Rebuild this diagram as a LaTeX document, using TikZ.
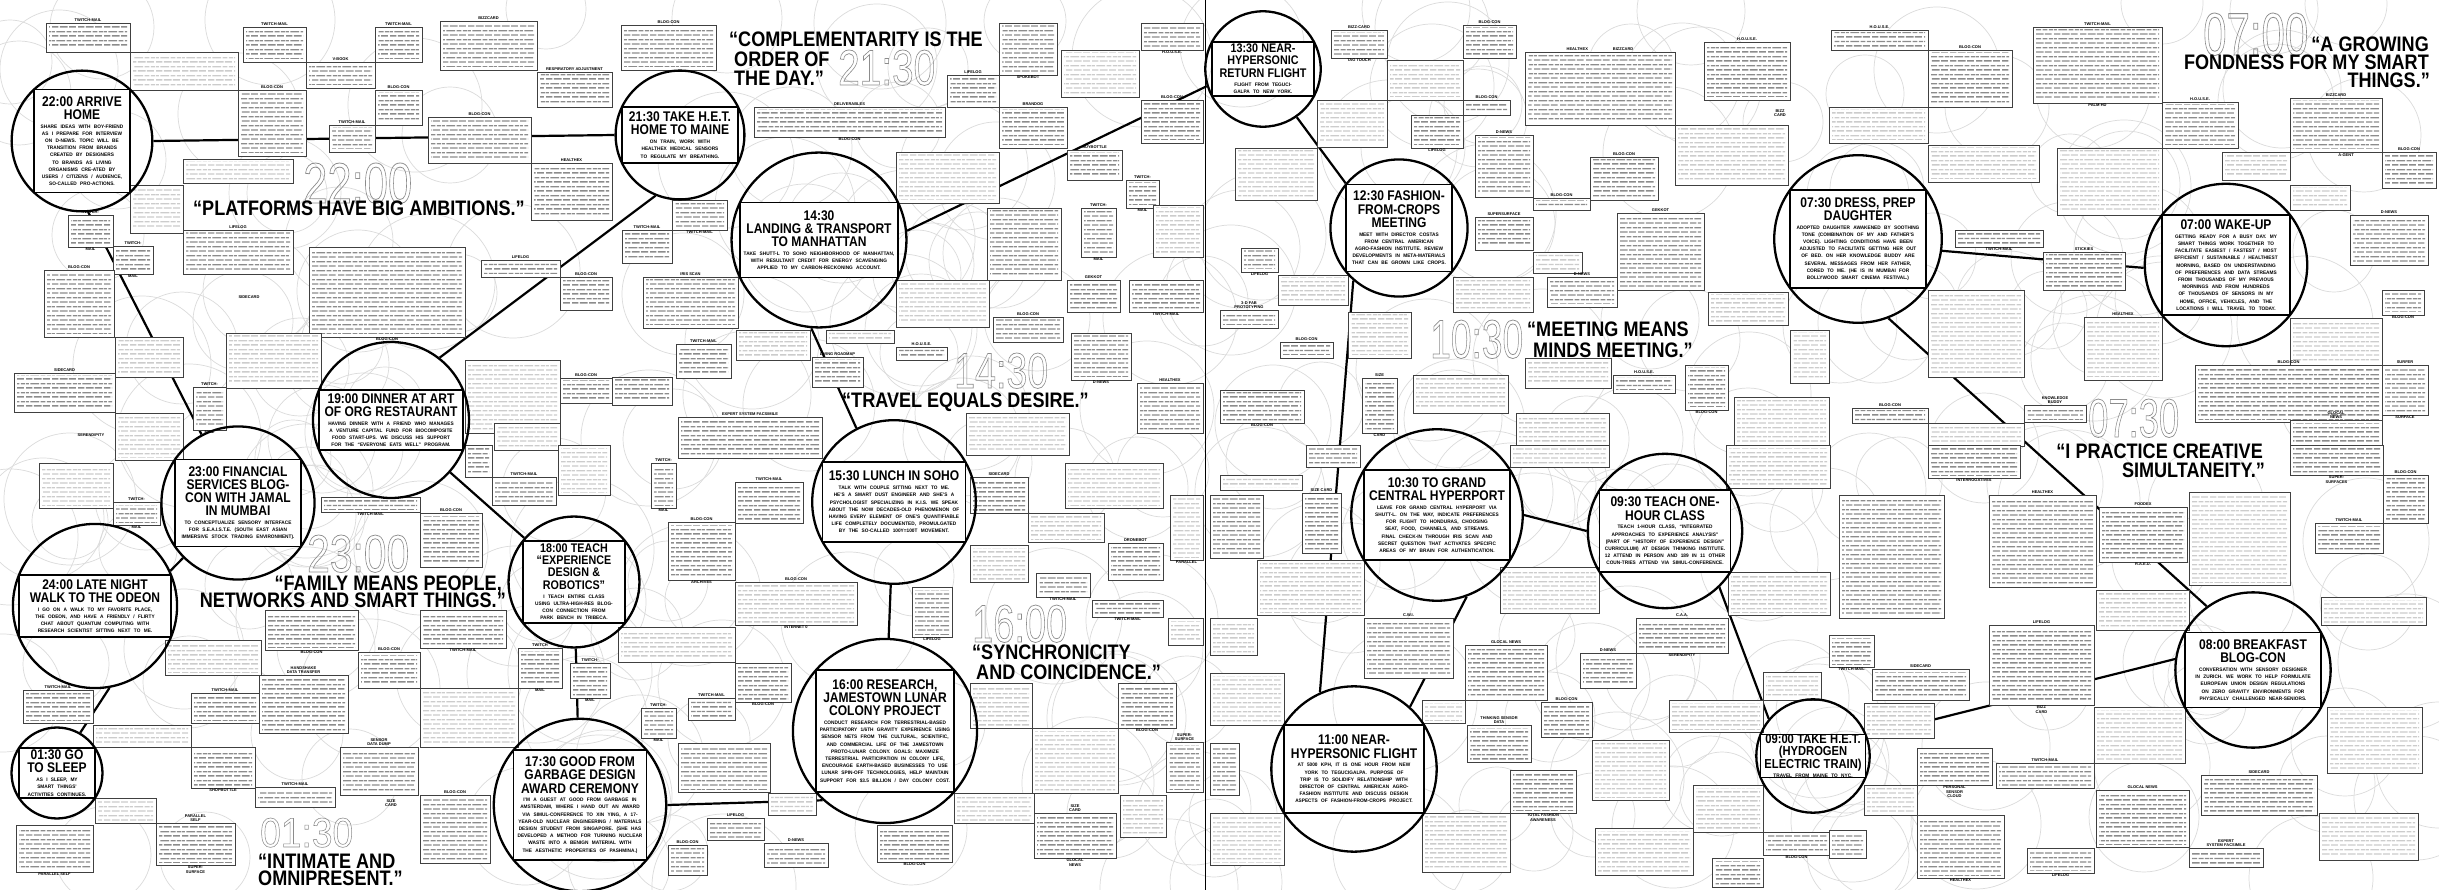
\documentclass[tikz,border=0pt]{standalone}
\usepackage{fontspec}
\setmainfont{Liberation Sans}
\newfontfamily\condf[FakeStretch=0.86]{Liberation Sans}
\newfontfamily\bodyff[FakeStretch=0.95]{Liberation Sans}
\newfontfamily\numff{Liberation Sans}
\usetikzlibrary{patterns}
\pgfdeclarelayer{bg}\pgfdeclarelayer{conn}\pgfdeclarelayer{boxes}
\pgfsetlayers{bg,conn,boxes,main}
\pgfdeclarepatternformonly{txtlines}{\pgfqpoint{0pt}{0pt}}{\pgfqpoint{26pt}{8.6pt}}{\pgfqpoint{26pt}{8.6pt}}{%
 \pgfsetlinewidth{1.4pt}%
 \pgfpathmoveto{\pgfqpoint{0pt}{2.15pt}}\pgfpathlineto{\pgfqpoint{6.5pt}{2.15pt}}%
 \pgfpathmoveto{\pgfqpoint{8pt}{2.15pt}}\pgfpathlineto{\pgfqpoint{16pt}{2.15pt}}%
 \pgfpathmoveto{\pgfqpoint{17.5pt}{2.15pt}}\pgfpathlineto{\pgfqpoint{24.5pt}{2.15pt}}%
 \pgfpathmoveto{\pgfqpoint{0pt}{6.45pt}}\pgfpathlineto{\pgfqpoint{3pt}{6.45pt}}%
 \pgfpathmoveto{\pgfqpoint{4.5pt}{6.45pt}}\pgfpathlineto{\pgfqpoint{13.5pt}{6.45pt}}%
 \pgfpathmoveto{\pgfqpoint{15pt}{6.45pt}}\pgfpathlineto{\pgfqpoint{20pt}{6.45pt}}%
 \pgfpathmoveto{\pgfqpoint{21.5pt}{6.45pt}}\pgfpathlineto{\pgfqpoint{26pt}{6.45pt}}%
 \pgfusepath{stroke}}
\colorlet{toned}{black!45}
\colorlet{tonel}{black!20}
\newcommand\ttlf{\condf\bfseries\fontsize{14}{13.2}\selectfont}
\newcommand\bdyf{\bodyff\bfseries\fontsize{5}{7.2}\selectfont}
\newcommand\outl[1]{\special{pdf:literal direct 1 Tr 0.7 w}#1\special{pdf:literal direct 0 Tr}}
\tikzset{
 sbox/.style={draw=black!75,line width=0.7pt,fill=white},
 lbl/.style={font=\bfseries\fontsize{4}{4.4}\selectfont,inner sep=0.3pt,align=center},
 bigc/.style={circle,draw,line width=2.3pt,inner sep=0pt},
 ibox/.style={draw,line width=1.3pt,fill=white},
 evt/.style={align=center,inner sep=0pt},
 link/.style={line width=2.2pt},
 faint/.style={draw=black!14,line width=0.7pt},
 qt/.style={font=\condf\bfseries\fontsize{21}{19}\selectfont,inner sep=0pt},
 tnum/.style={text=black!45,inner sep=0pt,anchor=base west},
}
\newcounter{bxc}
\newcommand\bx[7][]{%
 \stepcounter{bxc}%
 \draw[sbox] (#2,#3) rectangle (#4,#5);
 \fill[pattern=txtlines,pattern color=tone#7] ({#2+3},{#3+3}) rectangle ({#4-3},{#5-3});
 \node[lbl,anchor=south] (la\thebxc) at ({(#2+#4)/2},{#3-0.6}) {#6};
 \node[lbl,anchor=north] (lb\thebxc) at ({(#2+#4)/2},{#5+0.6}) {#1};
}
\newcommand\evc[7]{%
 \pgfmathsetmacro\dd{2*veclen(#4,#5)}%
 \pgfmathsetmacro\tw{2*#4-7}%
 \node[bigc,minimum size=\dd pt] (#1) at (#2,#3) {};
 \draw[ibox] ({#2-#4},{#3-#5}) rectangle ({#2+#4},{#3+#5});
 \node[evt,text width=\tw pt] (#1x) at (#2,#3) {{\ttlf #6\par}\vspace{1.5pt}{\bdyf #7\par}};
}
\newcommand\tnm[5]{% name x ybottom width height
 \node[tnum] (#1) at (#2,#3) {\resizebox{#4pt}{#5pt}{\numff\fontsize{50}{50}\selectfont\outl{\csname tn#1\endcsname}}};
}
\begin{document}
\begin{tikzpicture}[x=1pt,y=-1pt]
\useasboundingbox (0,0) rectangle (2439,890);

% faint background circles
\begin{pgfonlayer}{bg}
\fill[white] (0,0) rectangle (2439,890);
\pgfmathsetseed{42}
\foreach \i in {1,...,260}{
 \pgfmathsetmacro\px{random(0,2439)}
 \pgfmathsetmacro\py{random(0,890)}
 \pgfmathsetmacro\pr{random(38,72)}
 \draw[faint] (\px,\py) circle[radius=\pr];
}
\end{pgfonlayer}

% ---------- event circles ----------
\evc{s2200}{82}{141}{48}{51.5}{22:00~ARRIVE\\HOME}{SHARE IDEAS WITH BOY-FRIEND AS I PREPARE FOR INTERVIEW ON D-NEWS. TOPIC WILL BE TRANSITION FROM BRANDS CREATED BY DESIGNERS TO BRANDS AS LIVING ORGANISMS CRE-ATED BY USERS / CITIZENS / AUDIENCE, SO-CALLED PRO-ACTIONS.}
\evc{s2130}{680}{135}{58}{28}{21:30~TAKE~H.E.T.\\HOME~TO~MAINE}{ON TRAIN, WORK WITH HEALTHEX MEDICAL SENSORS TO REGULATE MY BREATHING.}
\evc{s1430}{819}{240}{79}{37.5}{14:30\\LANDING~\&~TRANSPORT\\TO~MANHATTAN}{TAKE SHUTT-L TO SOHO NEIGHBORHOOD OF MANHATTAN, WITH RESULTANT CREDIT FOR ENERGY SCAVENGING APPLIED TO MY CARBON-RECKONING ACCOUNT.}
\evc{s1330}{1263}{69}{51}{27}{{\fontsize{12.5}{11.6}\selectfont 13:30~NEAR-\\HYPERSONIC\\RETURN~FLIGHT}}{FLIGHT FROM TEGUCIGALPA TO NEW YORK.}
\evc{s1230}{1399}{228}{53}{43.5}{12:30~FASHION-\\FROM-CROPS\\MEETING}{MEET WITH DIRECTOR COSTAS FROM CENTRAL AMERICAN AGRO-FASHION INSTITUTE. REVIEW DEVELOPMENTS IN META-MATERIALS THAT CAN BE GROWN LIKE CROPS.}
\evc{s0730}{1858}{239}{68}{49}{07:30~DRESS,~PREP\\DAUGHTER}{ADOPTED DAUGHTER AWAKENED BY SOOTHING TONE (COMBINATION OF MY AND FATHER’S VOICE). LIGHTING CONDITIONS HAVE BEEN ADJUSTED TO FACILITATE GETTING HER OUT OF BED. ON HER KNOWLEDGE BUDDY ARE SEVERAL MESSAGES FROM HER FATHER, CORED TO ME. (HE IS IN MUMBAI FOR BOLLYWOOD SMART CINEMA FESTIVAL.)}
\evc{s0700}{2226}{265}{64}{50}{07:00~WAKE-UP}{GETTING READY FOR A BUSY DAY. MY SMART THINGS WORK TOGETHER TO FACILITATE EASIEST / FASTEST / MOST EFFICIENT / SUSTAINABLE / HEALTHIEST MORNING, BASED ON UNDERSTANDING OF PREFERENCES AND DATA STREAMS FROM THOUSANDS OF MY PREVIOUS MORNINGS AND FROM HUNDREDS OF THOUSANDS OF SENSORS IN MY HOME, OFFICE, VEHICLES, AND THE LOCATIONS I WILL TRAVEL TO TODAY.}
\evc{s1900}{391}{420}{72}{30}{19:00~DINNER~AT~ART\\OF~ORG~RESTAURANT}{HAVING DINNER WITH A FRIEND WHO MANAGES A VENTURE CAPITAL FUND FOR BIOCOMPOSITE FOOD START-UPS. WE DISCUSS HIS SUPPORT FOR THE “EVERYONE EATS WELL” PROGRAM.}
\evc{s2300}{238}{503}{63}{43.5}{23:00~FINANCIAL\\SERVICES~BLOG-\\CON~WITH~JAMAL\\IN~MUMBAI}{TO CONCEPTUALIZE SENSORY INTERFACE FOR S.E.A.I.S.T.E. (SOUTH EAST ASIAN IMMERSIVE STOCK TRADING ENVIRONMENT).}
\evc{s2400}{95}{606}{76}{31}{24:00~LATE~NIGHT\\WALK~TO~THE~ODEON}{I GO ON A WALK TO MY FAVORITE PLACE, THE ODEON, AND HAVE A FRIENDLY / FLIRTY CHAT ABOUT QUANTUM COMPUTING WITH RESEARCH SCIENTIST SITTING NEXT TO ME.}
\evc{s0130}{57}{773}{38}{25}{01:30~GO\\TO~SLEEP}{AS I SLEEP, MY SMART THINGS’ ACTIVITIES CONTINUES.}
\evc{s1800}{574}{582}{51}{41}{{\fontsize{12.5}{11.6}\selectfont 18:00~TEACH\\“EXPERIENCE\\DESIGN~\&\\ROBOTICS”}}{I TEACH ENTIRE CLASS USING ULTRA-HIGH-RES BLOG-CON CONNECTION FROM PARK BENCH IN TRIBECA.}
\evc{s1530}{894}{502}{71.5}{40}{15:30~LUNCH~IN~SOHO}{TALK WITH COUPLE SITTING NEXT TO ME. HE’S A SMART DUST ENGINEER AND SHE’S A PSYCHOLOGIST SPECIALIZING IN K.I.S. WE SPEAK ABOUT THE NOW DECADES-OLD PHENOMENON OF HAVING EVERY ELEMENT OF ONE’S QUANTIFIABLE LIFE COMPLETELY DOCUMENTED, PROMULGATED BY THE SO-CALLED 100Y=100T MOVEMENT.}
\evc{s1030}{1437}{515}{73}{45}{10:30~TO~GRAND\\CENTRAL~HYPERPORT}{LEAVE FOR GRAND CENTRAL HYPERPORT VIA SHUTT-L. ON THE WAY, INDICATE PREFERENCES FOR FLIGHT TO HONDURAS, CHOOSING SEAT, FOOD, CHANNELS, AND STREAMS. FINAL CHECK-IN THROUGH IRIS SCAN AND SECRET QUESTION THAT ACTIVATES SPECIFIC AREAS OF MY BRAIN FOR AUTHENTICATION.}
\evc{s0930}{1665}{531}{65.5}{41}{09:30~TEACH~ONE-\\HOUR~CLASS}{TEACH 1-HOUR CLASS, “INTEGRATED APPROACHES TO EXPERIENCE ANALYSIS” (PART OF “HISTORY OF EXPERIENCE DESIGN” CURRICULUM) AT DESIGN THINKING INSTITUTE. 12 ATTEND IN PERSON AND 189 IN 11 OTHER COUN-TRIES ATTEND VIA SIMUL-CONFERENCE.}
\evc{s1600}{885}{731}{69}{61}{16:00~RESEARCH,\\JAMESTOWN~LUNAR\\COLONY~PROJECT}{CONDUCT RESEARCH FOR TERRESTRIAL-BASED PARTICIPATORY 1/6TH GRAVITY EXPERIENCE USING SENSOR NETS FROM THE CULTURAL, SCIENTIFIC, AND COMMERCIAL LIFE OF THE JAMESTOWN PROTO-LUNAR COLONY. GOALS: MAXIMIZE TERRESTRIAL PARTICIPATION IN COLONY LIFE, ENCOURAGE EARTH-BASED BUSINESSES TO USE LUNAR SPIN-OFF TECHNOLOGIES, HELP MAINTAIN SUPPORT FOR \$3.5 BILLION / DAY COLONY COST.}
\evc{s1730}{580}{805}{66.5}{55}{17:30~GOOD~FROM\\GARBAGE~DESIGN\\AWARD~CEREMONY}{I’M A GUEST AT GOOD FROM GARBAGE IN AMSTERDAM, WHERE I HAND OUT AN AWARD VIA SIMUL-CONFERENCE TO XIN YING, A 17-YEAR-OLD NUCLEAR ENGINEERING / MATERIALS DESIGN STUDENT FROM SINGAPORE. (SHE HAS DEVELOPED A METHOD FOR TURNING NUCLEAR WASTE INTO A BENIGN MATERIAL WITH THE AESTHETIC PROPERTIES OF PASHMINA.)}
\evc{s1100}{1354}{769}{70}{44}{11:00~NEAR-\\HYPERSONIC~FLIGHT}{AT 5000 KPH, IT IS ONE HOUR FROM NEW YORK TO TEGUCIGALPA. PURPOSE OF TRIP IS TO SOLIDIFY RELATIONSHIP WITH DIRECTOR OF CENTRAL AMERICAN AGRO-FASHION INSTITUTE AND DISCUSS DESIGN ASPECTS OF FASHION-FROM-CROPS PROJECT.}
\evc{s0900}{1813}{756}{52.5}{21.5}{{\fontsize{13}{12.2}\selectfont 09:00~TAKE~H.E.T.\\(HYDROGEN\\ELECTRIC~TRAIN)}}{TRAVEL FROM MAINE TO NYC.}
\evc{s0800}{2253}{670}{68}{37.5}{08:00~BREAKFAST\\BLOG-CON}{CONVERSATION WITH SENSORY DESIGNER IN ZURICH. WE WORK TO HELP FORMULATE EUROPEAN UNION DESIGN REGULATIONS ON ZERO GRAVITY ENVIRONMENTS FOR PHYSICALLY CHALLENGED NEAR-SENIORS.}

% ---------- connectors ----------
\begin{pgfonlayer}{conn}
\draw[link] (s2200.east) -- (s2130.west);
\draw[link] (s2200.275) -- (s2300.118);
\draw[link] (s2300.225) -- (s2400.25);
\draw[link] (s2400.-80) -- (s0130.60);
\draw[link] (s2130.248) -- (s1900.52);
\draw[link] (s1900) -- (s1800);
\draw[link] (s1800) -- (s1730);
\draw[link] (s1730.0) -- (s1600.228);
\draw[link] (s1600) -- (s1530);
\draw[link] (s1530.117) -- (s1430.265);
\draw[link] (s1430.6) -- (s1330.197);
\draw[link] (s1330.305) -- (s1230.140);
\draw[link] (s1230.229) -- (s1100.114);
\draw[link] (s1100.48) -- (s1030.290);
\draw[link] (s1030.east) -- (s0930.west);
\draw[link] (s0930.314) -- (s0900.140);
\draw[link] (s0900.20) -- (s0800.172);
\draw[link] (s0800.126) -- (s0730.291);
\draw[link] (s0730.-8) -- (s0700.182);
\end{pgfonlayer}

% ---------- small boxes ----------
\begin{pgfonlayer}{boxes}
% tile 1
\bx{46}{23}{130}{52}{TWITCH-MAIL}{d}
\bx{130}{52}{238}{90}{}{l}
\bx{243}{27}{306}{62}{TWITCH-MAIL}{d}
\bx{375}{27}{422}{62}{TWITCH-MAIL}{d}
\bx{306}{62}{375}{88}{V-BOOK}{d}
\bx{238}{90}{306}{156}{BLOG-CON}{d}
\bx{375}{90}{422}{125}{BLOG-CON}{d}
\bx{329}{125}{375}{152}{TWITCH-MAIL}{d}
\bx{440}{21}{537}{70}{BIZZCARD}{d}
\bx{537}{72}{612}{107}{RESPIRATORY ADJUSTMENT}{d}
\bx{428}{117}{531}{163}{BLOG-CON}{d}
\bx{531}{163}{612}{220}{HEALTHEX}{d}
\bx{183}{159}{293}{183}{}{l}
\bx{130}{185}{183}{233}{}{l}
\bx[MAIL]{68}{215}{113}{247}{TWITCH-}{d}
\bx[MAIL]{113}{246}{153}{274}{TWITCH-}{d}
\bx{183}{230}{293}{274}{LIFELOG}{d}
\bx{44}{270}{114}{337}{BLOG-CON}{d}
\bx[BLOG-CON]{309}{247}{465}{337}{}{d}
\bx{481}{260}{560}{277}{LIFELOG}{d}
\bx{560}{277}{612}{310}{BLOG-CON}{d}
\bx{115}{337}{183}{377}{}{l}
\bx{226}{333}{321}{388}{}{l}
\bx{465}{360}{560}{433}{}{l}
\bx{14}{373}{115}{412}{SIDECARD}{d}
\bx[MAIL]{193}{387}{226}{430}{TWITCH-}{d}
\bx{115}{413}{183}{460}{}{l}
\bx{560}{378}{612}{403}{BLOG-CON}{d}
\bx{494}{423}{560}{450}{}{l}
% tile 2
\bx{621}{25}{716}{70}{BLOG-CON}{d}
\bx[BLOG-CON]{754}{107}{945}{137}{DELIVERABLES}{d}
\bx{896}{152}{999}{203}{}{l}
\bx[SPOKEBOT]{999}{23}{1057}{75}{}{d}
\bx{947}{75}{999}{107}{LIFELOG}{d}
\bx{999}{107}{1067}{148}{BRANDOG}{d}
\bx{1061}{50}{1139}{97}{}{l}
\bx[H.O.U.S.E.]{1141}{23}{1203}{50}{}{d}
\bx{1141}{100}{1203}{143}{BLOG-CON}{d}
\bx{1067}{150}{1122}{180}{BUYBOTTLE}{d}
\bx[MAIL]{1126}{180}{1159}{208}{TWITCH-}{d}
\bx[MAIL]{1081}{208}{1116}{257}{TWITCH-}{d}
\bx{1153}{205}{1203}{257}{}{l}
\bx{987}{208}{1061}{280}{}{d}
\bx{1067}{280}{1120}{312}{GEKKOT}{d}
\bx{993}{317}{1063}{342}{BLOG-CON}{d}
\bx{896}{280}{989}{327}{}{l}
\bx[TWITCH-MAIL]{1129}{280}{1203}{312}{}{d}
\bx[D-NEWS]{1071}{333}{1131}{380}{}{d}
\bx{1137}{383}{1203}{433}{HEALTHEX}{d}
\bx{643}{277}{738}{328}{IRIS SCAN}{d}
\bx[TWITCH-MAIL]{672}{200}{727}{230}{}{d}
\bx{622}{230}{672}{263}{TWITCH-MAIL}{d}
\bx{736}{330}{810}{360}{}{l}
\bx{826}{330}{894}{343}{}{l}
\bx{812}{357}{863}{387}{LIVING ROADMAP}{d}
\bx{896}{347}{947}{360}{H.O.U.S.E.}{d}
\bx{676}{344}{731}{378}{TWITCH-MAIL}{d}
\bx{678}{417}{822}{458}{EXPERT SYSTEM FACSIMILE}{d}
\bx{612}{377}{672}{405}{}{d}
\bx{966}{413}{1069}{455}{}{l}
% tile 3
\bx[TAG TOUCH]{1331}{30}{1387}{58}{BIZZ-CARD}{d}
\bx{1387}{60}{1463}{100}{}{l}
\bx{1463}{25}{1516}{58}{BLOG-CON}{d}
\bx{1463}{100}{1510}{115}{BLOG-CON}{d}
\bx{1317}{100}{1387}{147}{}{l}
\bx[LIFELOG]{1411}{115}{1463}{148}{}{d}
\bx{1475}{135}{1533}{197}{D-NEWS}{d}
\bx{1525}{52}{1675}{125}{HEALTHEX\hspace{25pt}BIZZCARD}{d}
\bx{1704}{42}{1790}{100}{H.O.U.S.E.}{d}
\bx{1675}{125}{1788}{185}{}{l}
\bx{1590}{157}{1658}{200}{BLOG-CON}{d}
\bx{1533}{198}{1590}{210}{BLOG-CON}{d}
\bx{1475}{217}{1533}{250}{SUPERSURFACE}{d}
\bx{1533}{252}{1582}{273}{}{l}
\bx{1617}{213}{1704}{290}{GEKKOT}{d}
\bx{1547}{277}{1617}{307}{D-NEWS}{d}
\bx{1453}{277}{1533}{312}{}{l}
\bx{1708}{292}{1788}{325}{}{l}
\bx{1790}{330}{1829}{383}{}{l}
\bx[LIFELOG]{1241}{248}{1278}{272}{}{d}
\bx{1278}{275}{1348}{305}{}{l}
\bx{1220}{310}{1278}{328}{3-D FAB\\PROTOTYPING}{d}
\bx{1280}{342}{1333}{358}{BLOG-CON}{d}
\bx{1348}{312}{1411}{358}{}{l}
\bx{1525}{358}{1611}{388}{}{l}
\bx{1613}{375}{1675}{393}{H.O.U.S.E.}{d}
\bx[BLOG-CON]{1685}{365}{1728}{410}{}{d}
\bx{1413}{375}{1508}{413}{}{l}
\bx[CARD]{1362}{378}{1397}{433}{SIZE}{d}
\bx[BLOG-CON]{1220}{390}{1304}{423}{}{d}
\bx{1734}{397}{1829}{446}{}{l}
\bx{1516}{413}{1609}{446}{}{l}
\bx{1235}{148}{1317}{200}{}{l}
% tile 4
\bx{1831}{30}{1928}{50}{H.O.U.S.E.}{d}
\bx{1928}{50}{2012}{107}{BLOG-CON}{d}
\bx[PALM-HD]{2033}{27}{2162}{103}{TWITCH-MAIL}{d}
\bx{1829}{107}{1928}{143}{}{l}
\bx{1928}{145}{2039}{182}{}{l}
\bx{2162}{102}{2238}{148}{H.O.U.S.E.}{d}
\bx{2290}{98}{2382}{152}{BIZZCARD}{d}
\bx{2222}{152}{2290}{180}{}{l}
\bx{2382}{152}{2436}{188}{BLOG-CON}{d}
\bx{2290}{185}{2350}{210}{}{l}
\bx{2057}{148}{2162}{215}{}{l}
\bx[TWITCH-MAIL]{1955}{230}{2043}{247}{}{d}
\bx{2043}{252}{2125}{290}{STICKIES}{d}
\bx{2350}{215}{2428}{265}{D-NEWS}{d}
\bx{1928}{290}{2024}{377}{}{l}
\bx{2084}{317}{2162}{380}{HEALTHEX}{l}
\bx{2290}{318}{2382}{365}{}{l}
\bx[BLOG-CON]{2382}{290}{2424}{315}{}{d}
\bx{2195}{365}{2382}{422}{BLOG-CON}{d}
\bx[SURFACE]{2382}{365}{2428}{415}{SURFER}{d}
\bx{2024}{405}{2086}{422}{KNOWLEDGE\\BUDDY}{d}
\bx{1852}{408}{1928}{423}{BLOG-CON}{d}
\bx{1928}{423}{2024}{446}{}{l}
\bx{2290}{420}{2382}{446}{GLOCAL\\NEWS}{d}
% tile 5
\bx{39}{463}{113}{508}{}{l}
\bx[MAIL]{113}{502}{160}{525}{TWITCH-}{d}
\bx[TWITCH-MAIL]{321}{497}{420}{512}{}{d}
\bx{420}{513}{482}{567}{BLOG-CON}{d}
\bx{465}{445}{492}{477}{}{d}
\bx{492}{477}{556}{505}{TWITCH-MAIL}{d}
\bx{558}{445}{610}{495}{}{l}
\bx[BLOG-CON]{265}{610}{358}{650}{}{d}
\bx{165}{640}{261}{675}{}{l}
\bx{358}{652}{420}{688}{BLOG-CON}{d}
\bx[TWITCH-MAIL]{420}{610}{506}{648}{}{d}
\bx{259}{675}{348}{733}{HANDSHAKE\\DATA TRANSFER}{d}
\bx{191}{693}{259}{723}{TWITCH-MAIL}{d}
\bx{23}{690}{93}{723}{TWITCH-MAIL}{d}
\bx{93}{725}{191}{747}{}{l}
\bx{420}{688}{518}{747}{}{l}
\bx[MAIL]{518}{648}{562}{688}{TWITCH}{d}
\bx[MAIL]{570}{663}{610}{698}{TWITCH-}{d}
\bx{340}{747}{418}{795}{SENSOR\\DATA DUMP}{d}
\bx[SHOPBOTTLE]{191}{747}{255}{788}{}{d}
\bx{255}{787}{335}{807}{TWITCH-MAIL}{d}
\bx{420}{795}{490}{863}{BLOG-CON}{d}
\bx{95}{798}{156}{823}{}{l}
\bx[SUPER-\\SURFACE]{156}{823}{235}{865}{PARALLEL\\SELF}{d}
\bx[PARALLEL SELF]{16}{825}{93}{872}{}{d}
% tile 6
\bx[MAIL]{651}{463}{676}{508}{TWITCH-}{d}
\bx{735}{482}{803}{523}{TWITCH-MAIL}{d}
\bx[ARCHIVES]{668}{522}{735}{580}{BLOG-CON}{d}
\bx[INTERNET 0]{735}{582}{857}{625}{BLOG-CON}{l}
\bx{618}{627}{735}{662}{}{l}
\bx[BLOG-CON]{735}{663}{791}{702}{}{d}
\bx{688}{698}{735}{720}{TWITCH-MAIL}{d}
\bx[MAIL]{641}{708}{676}{738}{TWITCH-}{d}
\bx{678}{743}{770}{792}{}{d}
\bx{768}{793}{816}{815}{}{l}
\bx{707}{818}{764}{840}{LIFELOG}{d}
\bx{668}{845}{707}{875}{BLOG-CON}{d}
\bx{764}{843}{828}{867}{D-NEWS}{d}
\bx[LIFELOG]{912}{587}{952}{637}{}{d}
\bx{970}{545}{1028}{582}{}{l}
\bx{970}{477}{1028}{513}{SIDECARD}{d}
\bx{1028}{513}{1104}{542}{}{l}
\bx{1065}{463}{1163}{508}{}{l}
\bx{1108}{543}{1163}{580}{DRONEBOT}{d}
\bx[TWITCH-MAIL]{1036}{573}{1090}{597}{}{d}
\bx[TWITCH-MAIL]{1092}{600}{1163}{617}{}{d}
\bx{970}{683}{1032}{728}{}{l}
\bx[BLOG-CON]{1118}{683}{1176}{728}{}{d}
\bx{1032}{728}{1118}{793}{}{l}
\bx{954}{793}{1034}{823}{}{l}
\bx{1120}{795}{1166}{837}{}{l}
\bx[GLOCAL\\NEWS]{1034}{813}{1116}{858}{SIZE\\CARD}{d}
\bx[BLOG-CON]{877}{825}{952}{862}{}{d}
\bx{1166}{742}{1203}{792}{SUPER-\\SURFACE}{d}
\bx{1168}{618}{1203}{645}{}{l}
\bx[PARALLEL]{1170}{495}{1203}{560}{}{l}
% tile 7
\bx{1306}{445}{1360}{467}{}{d}
\bx{1220}{475}{1302}{490}{}{l}
\bx{1210}{495}{1263}{558}{}{d}
\bx{1302}{493}{1341}{553}{SIZE CARD}{d}
\bx{1257}{560}{1364}{615}{}{l}
\bx{1364}{618}{1453}{678}{C.W.I.}{d}
\bx{1210}{618}{1257}{655}{}{l}
\bx{1210}{673}{1284}{725}{}{l}
\bx{1210}{743}{1239}{795}{}{d}
\bx{1210}{813}{1284}{865}{}{l}
\bx{1465}{645}{1547}{700}{GLOCAL NEWS}{d}
\bx{1422}{700}{1465}{723}{}{l}
\bx{1467}{725}{1531}{762}{THINKING SENSOR\\DATA}{d}
\bx{1580}{653}{1636}{688}{D-NEWS}{d}
\bx{1541}{702}{1592}{737}{BLOG-CON}{d}
\bx{1592}{740}{1669}{800}{}{l}
\bx{1500}{567}{1599}{613}{}{l}
\bx[SERENDIPITY]{1636}{618}{1728}{653}{C.A.A.}{d}
\bx{1728}{572}{1830}{615}{}{l}
\bx{1763}{672}{1821}{700}{}{l}
\bx{1669}{700}{1763}{732}{}{l}
\bx[TOTAL FASHION\\AWARENESS]{1510}{770}{1576}{813}{}{d}
\bx{1422}{813}{1510}{872}{}{l}
\bx{1693}{785}{1763}{832}{}{l}
\bx{1595}{828}{1693}{875}{}{l}
\bx{1712}{858}{1763}{887}{}{d}
\bx[BLOG-CON]{1763}{832}{1830}{855}{}{d}
\bx{1726}{445}{1830}{488}{}{l}
\bx{1510}{445}{1609}{467}{}{l}
% tile 8
\bx[INTERROGATIVES]{1928}{445}{2020}{478}{}{d}
\bx{1839}{495}{1944}{618}{}{d}
\bx{1989}{495}{2096}{587}{HEALTHEX}{d}
\bx[R.A.E.U.]{2099}{507}{2187}{562}{FOODEX}{d}
\bx{2189}{492}{2290}{585}{}{l}
\bx[SUPER-\\SURFACES]{2290}{445}{2383}{475}{}{d}
\bx{2383}{475}{2428}{523}{BLOG-CON}{d}
\bx{2315}{523}{2383}{553}{TWITCH-MAIL}{d}
\bx{2096}{590}{2189}{630}{}{l}
\bx{2321}{597}{2426}{625}{}{l}
\bx[TWITCH-MAIL]{1829}{635}{1874}{667}{}{d}
\bx{1872}{669}{1969}{700}{SIDECARD}{d}
\bx[BIZZ\\CARD]{1989}{625}{2094}{705}{LIFELOG}{d}
\bx{1864}{703}{1934}{738}{}{l}
\bx{2094}{707}{2185}{763}{}{l}
\bx{2327}{707}{2422}{773}{}{l}
\bx[PERSONAL\\SENSOR\\CLOUD]{1917}{748}{1992}{785}{}{d}
\bx{1996}{763}{2094}{788}{TWITCH-MAIL}{d}
\bx{2201}{775}{2317}{815}{SIDECARD}{d}
\bx{2096}{790}{2189}{847}{GLOCAL NEWS}{d}
\bx{1864}{785}{1917}{815}{}{l}
\bx[HEALTHEX]{1917}{815}{2004}{878}{}{d}
\bx{1829}{830}{1866}{858}{}{d}
\bx[LIFELOG]{2027}{848}{2094}{873}{}{d}
\bx{2189}{848}{2263}{867}{EXPERT\\SYSTEM FACSIMILE}{d}
\bx{2319}{813}{2418}{860}{}{l}
% standalone labels
\node[lbl] (sl1) at (249,297) {SIDECARD};
\node[lbl] (sl2) at (91,435) {SERENDIPITY};
\node[lbl] (sl3) at (2346,155) {A-GENT};
\node[lbl] (sl4) at (391,803) {SIZE\\CARD};
\node[lbl] (sl5) at (1780,113) {BIZZ\\CARD};
\end{pgfonlayer}

% ---------- big grey times ----------
\expandafter\def\csname tnt2200\endcsname{22:00}
\expandafter\def\csname tnt2130\endcsname{21:30}
\expandafter\def\csname tnt1430\endcsname{14:30}
\expandafter\def\csname tnt1030\endcsname{10:30}
\expandafter\def\csname tnt0700\endcsname{07:00}
\expandafter\def\csname tnt0730\endcsname{07:30}
\expandafter\def\csname tnt2300\endcsname{23:00}
\expandafter\def\csname tnt1600\endcsname{16:00}
\expandafter\def\csname tnt0130\endcsname{01:30}
\tnm{t2200}{303}{203}{109}{40}
\tnm{t2130}{838}{85}{97}{35}
\tnm{t1430}{954}{388}{94}{35}
\tnm{t1030}{1430}{358}{93}{38}
\tnm{t0700}{2203}{55}{105}{42}
\tnm{t0730}{2088}{437}{91}{38}
\tnm{t2300}{307}{572}{102}{37}
\tnm{t1600}{972}{642}{95}{37}
\tnm{t0130}{260}{847}{93}{29}

% ---------- quotes ----------
\node[qt,anchor=base west] (q1) at (193,216) {“PLATFORMS HAVE BIG AMBITIONS.”};
\node[qt,anchor=base west] (q2a) at (729,47) {“COMPLEMENTARITY IS THE};
\node[qt,anchor=base west] (q2b) at (734,67) {ORDER OF};
\node[qt,anchor=base west] (q2c) at (734,86) {THE DAY.”};
\node[qt,anchor=base west] (q3) at (842,408) {“TRAVEL EQUALS DESIRE.”};
\node[qt,anchor=base west] (q4a) at (1527,337) {“MEETING MEANS};
\node[qt,anchor=base west] (q4b) at (1533,358) {MINDS MEETING.”};
\node[qt,anchor=base east] (q5a) at (2429,52) {“A GROWING};
\node[qt,anchor=base east] (q5b) at (2429,70) {FONDNESS FOR MY SMART};
\node[qt,anchor=base east] (q5c) at (2430,88) {THINGS.”};
\node[qt,anchor=base east] (q6a) at (2263,458) {“I PRACTICE CREATIVE};
\node[qt,anchor=base east] (q6b) at (2265,477) {SIMULTANEITY.”};
\node[qt,anchor=base east] (q7a) at (502,590) {“FAMILY MEANS PEOPLE,};
\node[qt,anchor=base east] (q7b) at (506,607) {NETWORKS AND SMART THINGS.”};
\node[qt,anchor=base west] (q8a) at (972,659) {“SYNCHRONICITY};
\node[qt,anchor=base west] (q8b) at (976,679) {AND COINCIDENCE.”};
\node[qt,anchor=base west] (q9a) at (258,868) {“INTIMATE AND};
\node[qt,anchor=base west] (q9b) at (258,885) {OMNIPRESENT.”};

% ---------- page gutter ----------
\coordinate (gt) at (1205,0);
\coordinate (gb) at (1205,890);
\draw[line width=0.8pt] (gt) -- (gb);
\end{tikzpicture}
\end{document}
